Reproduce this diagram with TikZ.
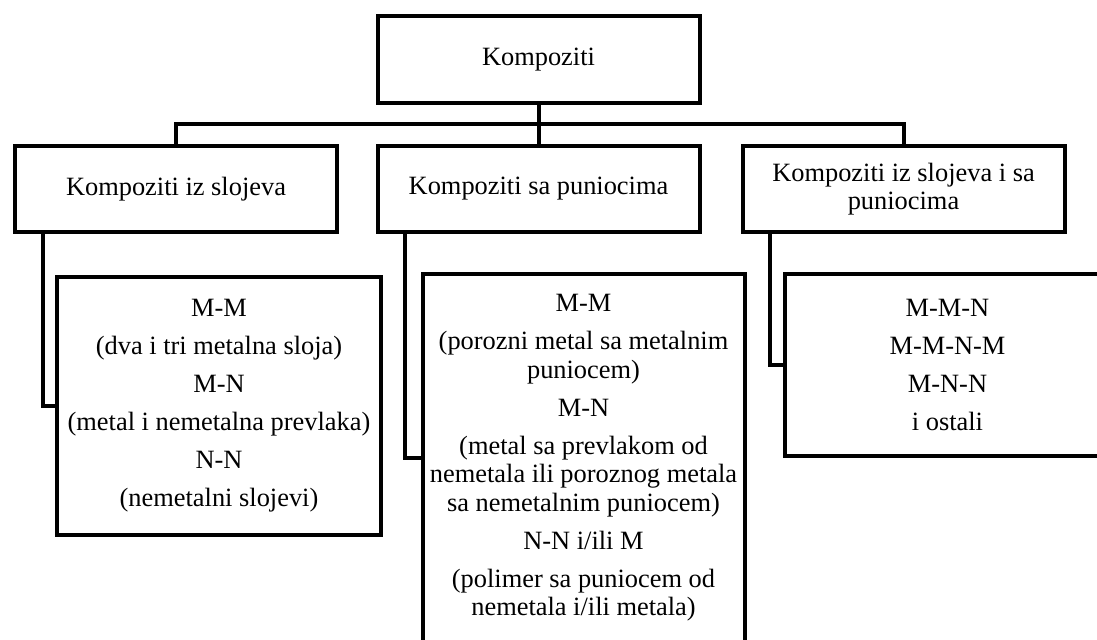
\documentclass[tikz,border=0pt]{standalone}
\usepackage{fontspec}
\setmainfont{Liberation Serif}

\begin{document}
\begin{tikzpicture}[x=0.5pt,y=-0.5pt,
        box/.style={draw, line width=2pt, align=center, inner sep=0pt,
            minimum width=161pt, font=\fontsize{13.2}{14.25}\selectfont},
        head/.style={box, minimum height=43pt},
        sub/.style={box, font=\fontsize{13.2}{19}\selectfont},
        link/.style={line width=2pt}]
        \useasboundingbox (0,0) rectangle (1097,640);

        \node[head, minimum height=43.5pt] (root) at (538.5,59.5) {Kompoziti};

        \node[head] (slo) at (176,189) {Kompoziti iz slojeva};
        \node[head] (pun) at (538.5,189) {Kompoziti sa puniocima};
        \node[head] (obo) at (903.5,189) {Kompoziti iz slojeva i sa\\puniocima};

        \node[sub, minimum width=162pt, minimum height=129pt] (slo2) at (219,406)
        {M-M\\(dva i tri metalna sloja)\\M-N\\(metal i nemetalna prevlaka)\\N-N\\(nemetalni slojevi)};
        \node[box, minimum height=184pt] (pun2) at (583.5,458)
        {M-M\\[4.75pt](porozni metal sa metalnim\\puniocem)\\[4.75pt]M-N\\[4.75pt]%
        (metal sa prevlakom od\\nemetala ili poroznog metala\\sa nemetalnim puniocem)\\[4.75pt]%
        N-N i/ili M\\[4.75pt](polimer sa puniocem od\\nemetala i/ili metala)};
        \node[sub, minimum width=162.5pt, minimum height=91pt] (obo2) at (947.5,365)
        {M-M-N\\M-M-N-M\\M-N-N\\i ostali};

        \coordinate (bar) at (538.5,124);
        \draw[link] (root.south) -- (pun.north);
        \draw[link] (slo.north) |- (bar) -| (obo.north);

        \draw[link] (slo.south west) ++(30,0) |- (slo2.west);
        \draw[link] (pun.south west) ++(29,0) |- (pun2.west);
        \draw[link] (obo.south west) ++(29,0) |- (obo2.west);

    \end{tikzpicture}
\end{document}
